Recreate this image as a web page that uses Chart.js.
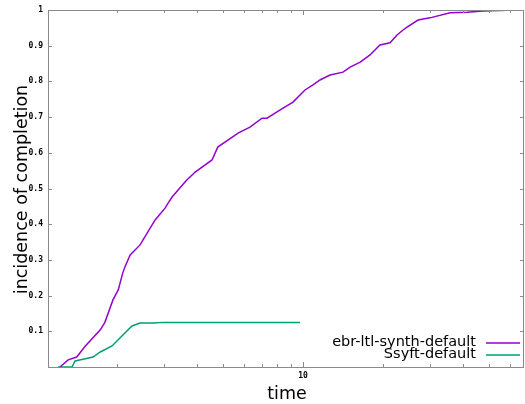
<!DOCTYPE html>
<html>
<head>
<meta charset="utf-8">
<script src="https://cdn.jsdelivr.net/npm/chart.js@4.4.1/dist/chart.umd.min.js"></script>
<style>
  html, body { margin: 0; padding: 0; background: #fff; }
  #wrap { width: 525px; height: 404px; position: relative; }
</style>
</head>
<body>
<div id="wrap"><canvas id="chart"></canvas></div>
<script>
// ebr-ltl-synth-default (time, incidence)
const ebrTime = [1.22, 1.31, 1.41, 1.52, 1.73, 1.80, 1.93, 2.02, 2.10, 2.14, 2.24, 2.44, 2.78, 3.03, 3.11, 3.22, 3.60, 3.66, 3.93, 4.55, 4.78, 5.70, 6.32, 7.01, 7.32, 8.41, 9.17, 10.17, 10.9, 11.58, 12.63, 14.14, 15.03, 16.4, 17.86, 19.46, 21.24, 22.56, 23.77, 24.6, 27.06, 30.0, 35.7, 41.4, 47.5, 58.5, 63.8, 67.7];
const ebrValue = [0, 0.02, 0.028, 0.059, 0.104, 0.125, 0.188, 0.216, 0.263, 0.28, 0.314, 0.342, 0.412, 0.445, 0.459, 0.476, 0.518, 0.524, 0.546, 0.58, 0.616, 0.655, 0.672, 0.697, 0.697, 0.725, 0.742, 0.776, 0.79, 0.804, 0.818, 0.826, 0.84, 0.854, 0.874, 0.902, 0.908, 0.93, 0.944, 0.952, 0.972, 0.978, 0.992, 0.994, 0.997, 0.999, 1, 1];

// Ssyft-default
const ssyftTime = [1.20, 1.355, 1.39, 1.49, 1.625, 1.73, 1.915, 2.05, 2.275, 2.44, 2.73, 2.98, 9.74];
const ssyftValue = [0, 0, 0.017, 0.022, 0.028, 0.042, 0.059, 0.081, 0.115, 0.123, 0.123, 0.125, 0.125];

// axis ticks
const xTicks = [2, 3, 4, 5, 6, 7, 8, 9, 10, 20, 30, 40, 50, 60];
const xLabels = { 10: '10' };
const yTicks = [0, 0.1, 0.2, 0.3, 0.4, 0.5, 0.6, 0.7, 0.8, 0.9, 1];

const seriesNames = ['ebr-ltl-synth-default', 'Ssyft-default'];
const seriesColors = ['#9400d3', '#009e73'];

function toPoints(xs, ys) {
    return xs.map((x, i) => ({ x: x, y: ys[i] }));
}

// gnuplot-ish frame, inward ticks, legend and axis titles
const gnuplotLook = {
    id: 'gnuplotLook',
    afterDraw(chart) {
        const ctx = chart.ctx;
        const a = chart.chartArea;
        const xs = chart.scales.x;
        const ys = chart.scales.y;
        ctx.save();

        // frame
        ctx.strokeStyle = '#8a8a8a';
        ctx.lineWidth = 1;
        ctx.strokeRect(Math.round(a.left) + 0.5, Math.round(a.top) + 0.5,
            Math.round(a.right - a.left) - 1, Math.round(a.bottom - a.top));

        // ticks pointing inward, mirrored
        ctx.beginPath();
        xTicks.forEach(v => {
            const px = Math.round(xs.getPixelForValue(v)) + 0.5;
            const len = xLabels[v] ? 5 : 3;
            ctx.moveTo(px, a.bottom); ctx.lineTo(px, a.bottom - len);
            ctx.moveTo(px, a.top); ctx.lineTo(px, a.top + len);
        });
        yTicks.forEach(v => {
            const py = Math.round(ys.getPixelForValue(v)) + 0.5;
            ctx.moveTo(a.left, py); ctx.lineTo(a.left + 4, py);
            ctx.moveTo(a.right, py); ctx.lineTo(a.right - 4, py);
        });
        ctx.stroke();

        // legend (text right aligned, sample on the right)
        ctx.font = '14.5px "DejaVu Sans"';
        ctx.textAlign = 'right';
        ctx.textBaseline = 'middle';
        seriesNames.forEach((name, i) => {
            const y = a.bottom - 25 + i * 12;
            ctx.fillStyle = '#000';
            ctx.fillText(name, a.right - 48, y);
            ctx.strokeStyle = seriesColors[i];
            ctx.lineWidth = 1.5;
            ctx.beginPath();
            ctx.moveTo(a.right - 38, y + 1);
            ctx.lineTo(a.right - 4, y + 1);
            ctx.stroke();
        });

        // axis titles
        ctx.fillStyle = '#000';
        ctx.font = '17.5px "DejaVu Sans"';
        ctx.textAlign = 'center';
        ctx.textBaseline = 'alphabetic';
        ctx.fillText('time', (a.left + a.right) / 2 + 1, 399);

        ctx.translate(27, (a.top + a.bottom) / 2 + 1);
        ctx.rotate(-Math.PI / 2);
        ctx.fillText('incidence of completion', 0, 0);
        ctx.restore();
    }
};

new Chart(document.getElementById('chart'), {
    type: 'line',
    data: {
        datasets: [
            {
                label: seriesNames[0],
                data: toPoints(ebrTime, ebrValue),
                borderColor: seriesColors[0],
                borderWidth: 1.5,
                pointRadius: 0,
                tension: 0,
                fill: false
            },
            {
                label: seriesNames[1],
                data: toPoints(ssyftTime, ssyftValue),
                borderColor: seriesColors[1],
                borderWidth: 1.5,
                pointRadius: 0,
                tension: 0,
                fill: false
            }
        ]
    },
    options: {
        responsive: true,
        maintainAspectRatio: false,
        animation: false,
        layout: { padding: { top: 10, right: 1, left: 0, bottom: 0 } },
        plugins: {
            legend: { display: false },
            tooltip: { enabled: false }
        },
        scales: {
            x: {
                type: 'logarithmic',
                min: 1.1,
                max: 67.7,
                grid: { display: false, drawTicks: false },
                border: { display: false },
                afterBuildTicks: s => { s.ticks = xTicks.map(v => ({ value: v })); },
                afterFit: s => { s.height = 37; },
                ticks: {
                    autoSkip: false,
                    maxRotation: 0,
                    padding: 4,
                    color: '#000',
                    font: { family: '"DejaVu Sans Mono"', size: 8, weight: 'bold' },
                    callback: v => xLabels[v] || ''
                }
            },
            y: {
                min: 0,
                max: 1,
                grid: { display: false, drawTicks: false },
                border: { display: false },
                afterBuildTicks: s => { s.ticks = yTicks.map(v => ({ value: v })); },
                afterFit: s => { s.width = 48; },
                ticks: {
                    padding: 5,
                    color: '#000',
                    font: { family: '"DejaVu Sans Mono"', size: 8, weight: 'bold' },
                    callback: v => v === 0 ? '' : String(Math.round(v * 10) / 10)
                }
            }
        }
    },
    plugins: [gnuplotLook]
});
</script>
</body>
</html>
